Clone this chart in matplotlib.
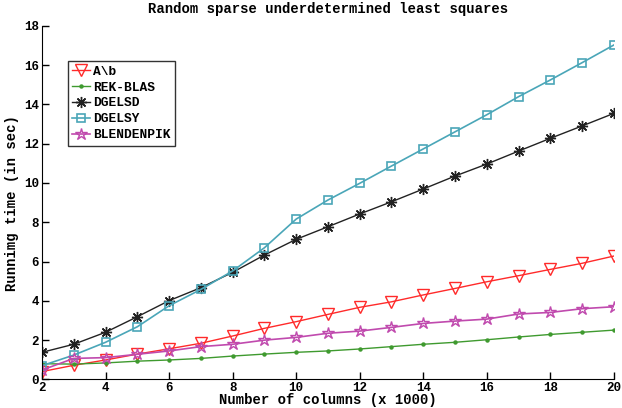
import numpy as np
import matplotlib
matplotlib.use("Agg")
import matplotlib.pyplot as plt

# number of columns (x 1000)
cols = [2, 3, 4, 5, 6, 7, 8, 9, 10, 11, 12, 13, 14, 15, 16, 17, 18, 19, 20]

# running times (sec)
t_backslash = [0.4, 0.72, 0.99, 1.29, 1.56, 1.84, 2.21, 2.60, 2.94, 3.31, 3.67,
               3.95, 4.30, 4.63, 4.97, 5.28, 5.60, 5.91, 6.28]
t_rek_blas = [0.80, 0.78, 0.84, 0.93, 0.99, 1.07, 1.19, 1.29, 1.38, 1.45, 1.55,
              1.67, 1.79, 1.89, 2.02, 2.16, 2.29, 2.40, 2.51]
t_dgelsd = [1.38, 1.79, 2.40, 3.19, 4.01, 4.67, 5.45, 6.33, 7.13, 7.77, 8.42,
            9.04, 9.69, 10.35, 10.96, 11.62, 12.27, 12.90, 13.54]
t_dgelsy = [0.70, 1.24, 1.89, 2.68, 3.75, 4.58, 5.52, 6.70, 8.16, 9.13, 9.98,
            10.86, 11.73, 12.60, 13.47, 14.39, 15.24, 16.12, 17.02]
t_blendenpik = [0.48, 1.07, 1.11, 1.28, 1.45, 1.67, 1.79, 2.00, 2.14, 2.35, 2.46,
                2.65, 2.85, 2.97, 3.07, 3.33, 3.41, 3.60, 3.70]

plt.rcParams['font.family'] = ['Liberation Mono', 'DejaVu Sans Mono']
plt.rcParams['font.weight'] = 'bold'

fig = plt.figure(figsize=(6.22, 4.08), dpi=100)
ax = fig.add_axes([0.0675, 0.070, 0.9195, 0.867])

ax.plot(cols, t_backslash, color='#ff2a2a', lw=1.0, marker='v', ms=8,
        mfc='none', mec='#ff2a2a', mew=1.0, label='A\\b')
ax.plot(cols, t_rek_blas, color='#3f9a2f', lw=1.0, marker='o', ms=2.2,
        mfc='#3f9a2f', mec='#3f9a2f', label='REK-BLAS')
ax.plot(cols, t_dgelsd, color='#222222', lw=1.0, marker=(8, 2, 0), ms=8,
        mec='#222222', mew=1.0, label='DGELSD')
ax.plot(cols, t_dgelsy, color='#4aa6b8', lw=1.2, marker='s', ms=6,
        mfc='none', mec='#4aa6b8', mew=1.2, label='DGELSY')
ax.plot(cols, t_blendenpik, color='#c04aae', lw=1.2, marker='*', ms=9,
        mfc='none', mec='#c04aae', mew=1.0, label='BLENDENPIK')

ax.set_xlim(2, 20)
ax.set_ylim(0, 18)
ax.set_xticks(np.arange(2, 21, 2))
ax.set_yticks(np.arange(0, 19, 2))
ax.spines['top'].set_visible(False)
ax.spines['right'].set_visible(False)
ax.tick_params(direction='in', length=5, width=1, labelsize=9, pad=2)
for lab in ax.get_xticklabels() + ax.get_yticklabels():
    lab.set_fontweight('bold')

ax.set_title('Random sparse underdetermined least squares', fontsize=10,
             fontweight='bold', pad=9)
ax.set_xlabel('Number of columns (x 1000)', fontsize=10, fontweight='bold',
              labelpad=-1)
ax.set_ylabel('Runnimg time (in sec)', fontsize=10, fontweight='bold',
              labelpad=4)

leg = ax.legend(loc='upper left', bbox_to_anchor=(0.045, 0.9), fontsize=9.3,
                frameon=True, fancybox=False, handlelength=1.4,
                handletextpad=0.2, borderpad=0.35, labelspacing=0.3,
                borderaxespad=0)
leg.get_frame().set_edgecolor('black')
leg.get_frame().set_linewidth(1.0)
for t in leg.get_texts():
    t.set_fontweight('bold')

fig.savefig('out.png', dpi=100)
